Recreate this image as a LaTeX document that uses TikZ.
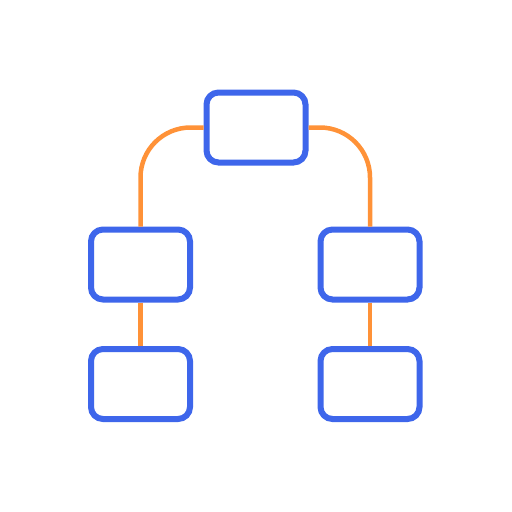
\documentclass[tikz,border=0pt]{standalone}
\definecolor{boxblue}{RGB}{62,102,235}
\definecolor{linkorange}{RGB}{255,146,56}
\begin{document}
\begin{tikzpicture}[x=1pt,y=-1pt,
  box/.style={draw=boxblue,line width=6pt,fill=white,rounded corners=12pt,minimum width=99pt,minimum height=70pt,inner sep=0pt},
  link/.style={draw=linkorange,line width=4.5pt}]
\useasboundingbox (0,0) rectangle (512,512);
\node[box] (top) at (256,127.5) {};
\node[box] (ml) at (140.5,264.5) {};
\node[box] (mr) at (370,264.5) {};
\node[box] (bl) at (140.5,384) {};
\node[box] (br) at (370,384) {};
\draw[link,rounded corners=50pt] (top.west) -| (ml.north);
\draw[link,rounded corners=50pt] (top.east) -| (mr.north);
\draw[link] (ml.south) -- (bl.north);
\draw[link] (mr.south) -- (br.north);
\end{tikzpicture}
\end{document}
